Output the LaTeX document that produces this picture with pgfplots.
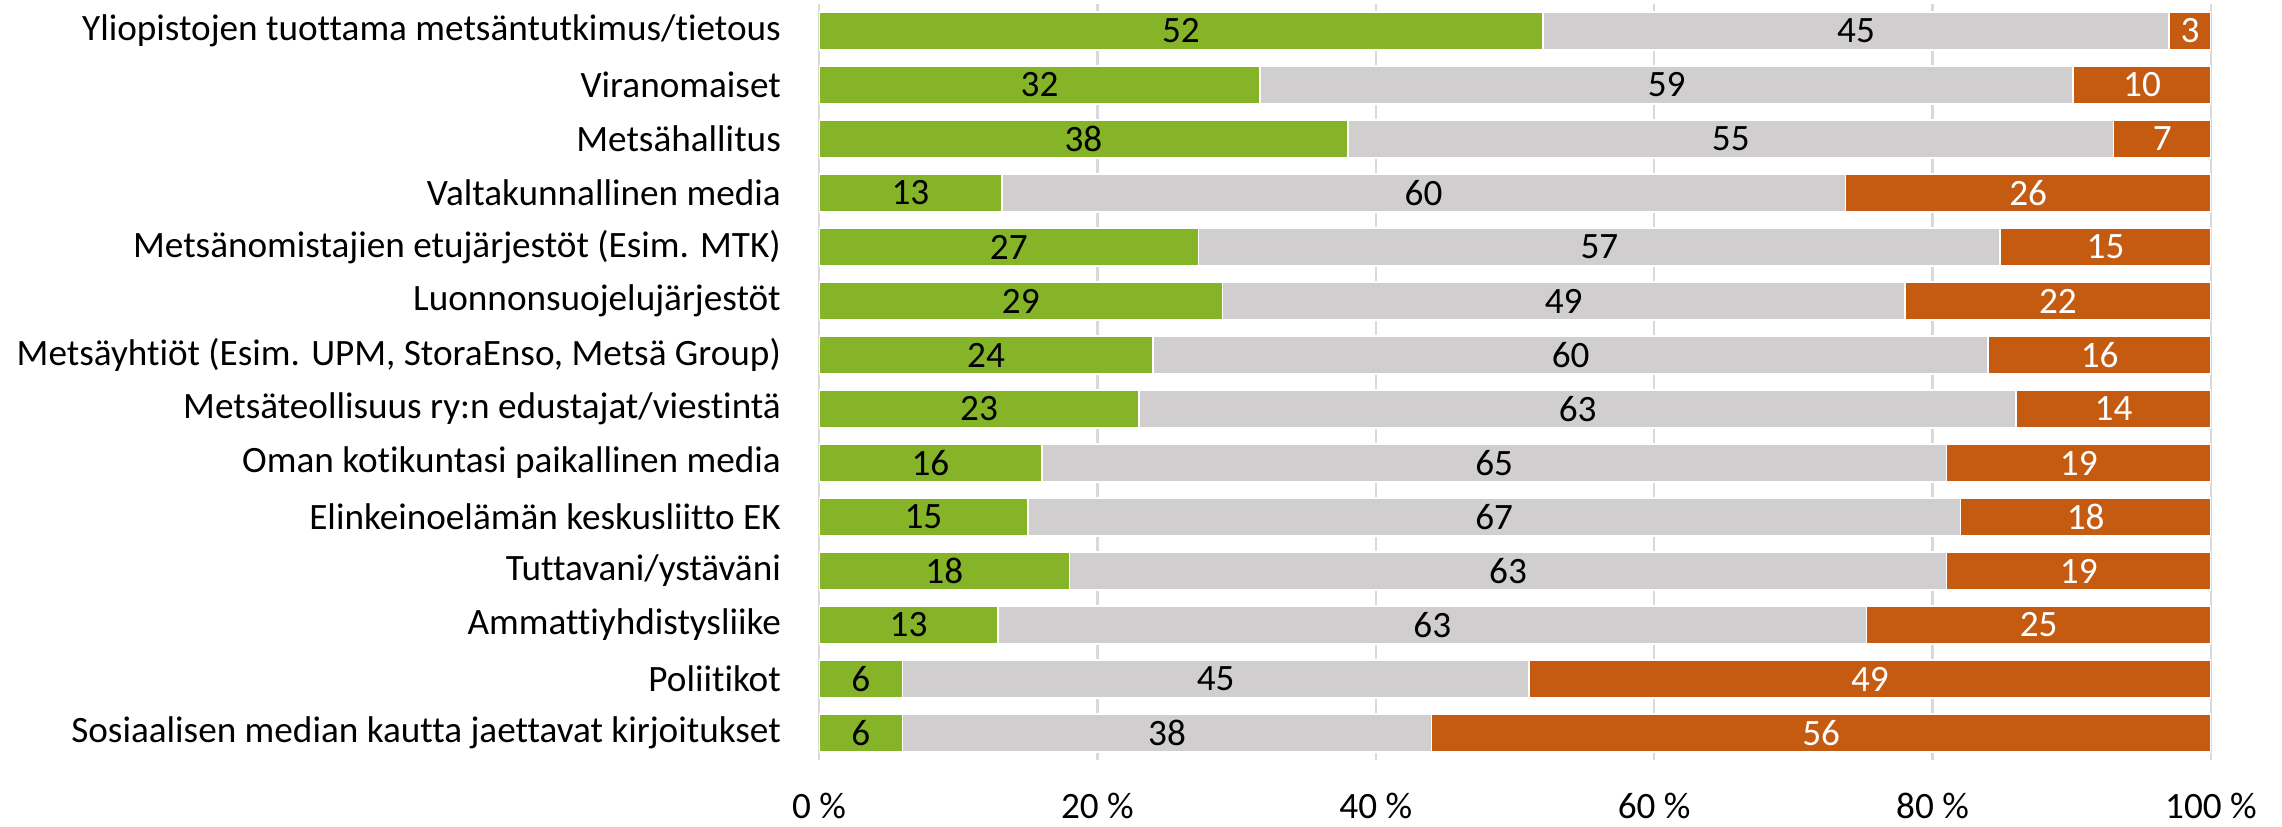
\documentclass[border=0pt]{standalone}
\usepackage{pgfplots}
\pgfplotsset{compat=1.18}
\usepackage{pgfplotstable}
\usepackage{fontspec}
\setmainfont{Carlito}[Ligatures={NoCommon}]

\definecolor{cgreen}{RGB}{134,180,40}
\definecolor{cgray}{RGB}{208,206,206}
\definecolor{corange}{RGB}{197,90,17}
\definecolor{cgrid}{RGB}{217,217,217}

% rows top to bottom: green, gray, orange shares (%)
\pgfplotstableread{
idx g n o
0 52 45 3
1 32 59 10
2 38 55 7
3 13 60 26
4 27 57 15
5 29 49 22
6 24 60 16
7 23 63 14
8 16 65 19
9 15 67 18
10 18 63 19
11 13 63 25
12 6 45 49
13 6 38 56
}\data

\pgfplotsset{
  base/.style={
    at={(0,0)}, anchor=south west,
    width=348pt, height=189pt, scale only axis,
    xmin=0, xmax=100, ymin=-0.5, ymax=13.5,
    y dir=reverse,
    font=\fontsize{9.3}{11}\selectfont,
  },
}
\newcommand{\tot}{(\thisrow{g}+\thisrow{n}+\thisrow{o})}

\begin{document}
\begin{tikzpicture}
\useasboundingbox (-204.75pt,-16.5pt) rectangle (365.75pt,190pt);
\begin{axis}[
    base,
    xbar stacked,
    bar width=9.5pt,
    xmajorgrids,
    grid style={cgrid, line width=0.6pt},
    axis line style={draw=none},
    major tick length=0pt,
    xtick={0,20,...,100},
    xticklabel={\pgfmathprintnumber[assume math mode=true]{\tick}\ \%},
    xticklabel style={yshift=-7pt, inner sep=1pt},
    ytick={0,...,13},
    yticklabel style={xshift=-6pt},
    yticklabels={
      Yliopistojen tuottama metsäntutkimus/tietous,
      Viranomaiset,
      Metsähallitus,
      Valtakunnallinen media,
      Metsänomistajien etujärjestöt (Esim. MTK),
      Luonnonsuojelujärjestöt,
      {Metsäyhtiöt (Esim. UPM, StoraEnso, Metsä Group)},
      Metsäteollisuus ry:n edustajat/viestintä,
      Oman kotikuntasi paikallinen media,
      Elinkeinoelämän keskusliitto EK,
      Tuttavani/ystäväni,
      Ammattiyhdistysliike,
      Poliitikot,
      Sosiaalisen median kautta jaettavat kirjoitukset},
  ]
  \addplot[fill=cgreen, draw=white, line width=0.4pt]
    table[y=idx, x expr={\thisrow{g}*100/\tot}] {\data};
  \addplot[fill=cgray, draw=white, line width=0.4pt]
    table[y=idx, x expr={\thisrow{n}*100/\tot}] {\data};
  \addplot[fill=corange, draw=white, line width=0.4pt]
    table[y=idx, x expr={\thisrow{o}*100/\tot}] {\data};
\end{axis}
\begin{axis}[
    base,
    hide axis,
    point meta=explicit,
    nodes near coords={\pgfmathprintnumber[assume math mode=true]{\pgfplotspointmeta}},
    every node near coord/.append style={anchor=center, inner sep=0pt},
  ]
  \addplot[draw=none, mark=none]
    table[y=idx, x expr={\thisrow{g}*50/\tot}, meta=g] {\data};
  \addplot[draw=none, mark=none]
    table[y=idx, x expr={(\thisrow{g}+\thisrow{n}/2)*100/\tot}, meta=n] {\data};
  \addplot[draw=none, mark=none, every node near coord/.append style={text=white}]
    table[y=idx, x expr={(\thisrow{g}+\thisrow{n}+\thisrow{o}/2)*100/\tot}, meta=o] {\data};
\end{axis}
\end{tikzpicture}
\end{document}
